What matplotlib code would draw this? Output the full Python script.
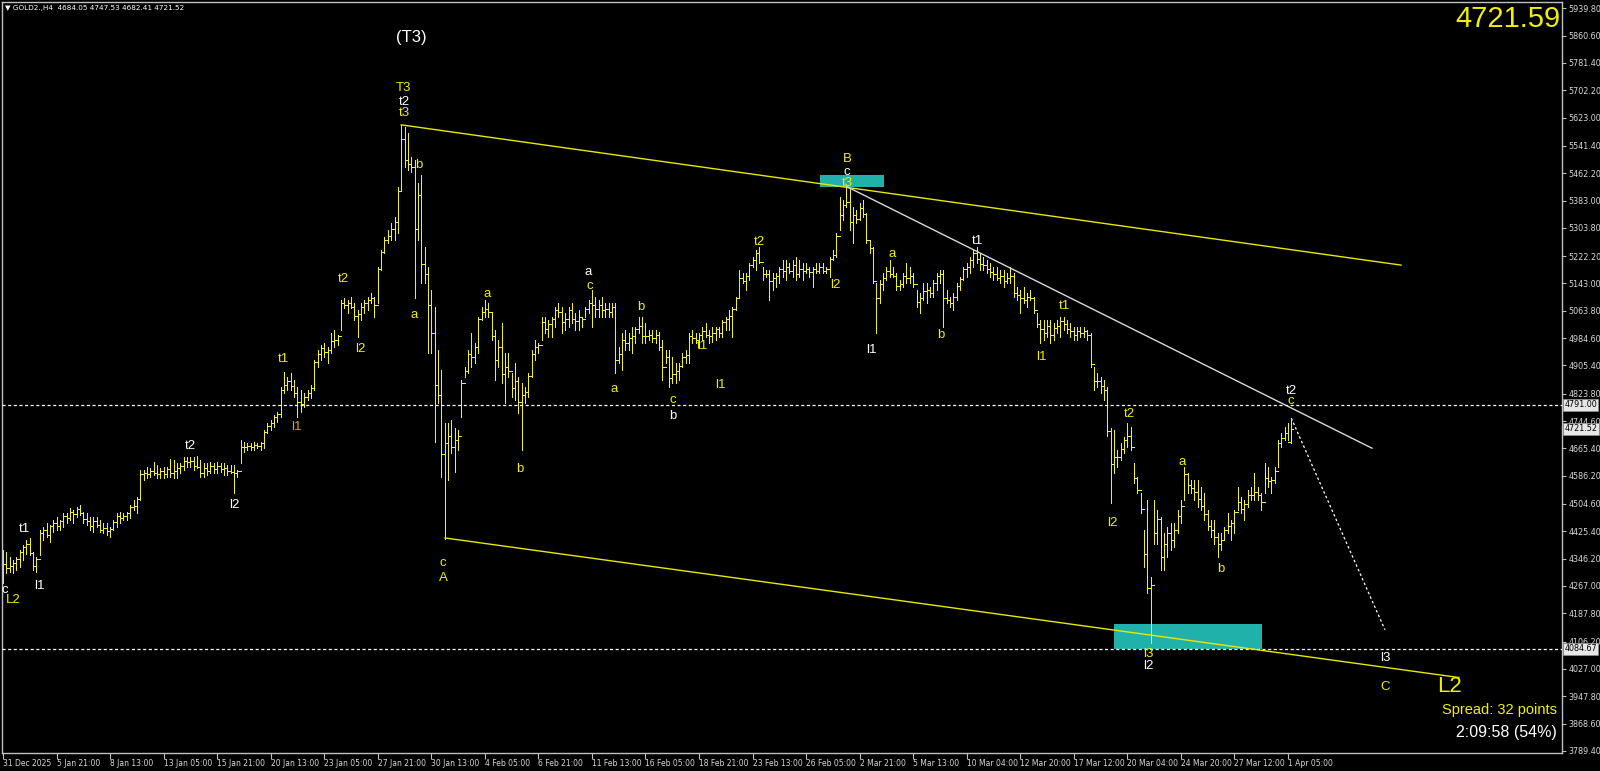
import matplotlib
matplotlib.use("Agg")
from matplotlib import pyplot as plt
from matplotlib.patches import Rectangle
import numpy as np

# GOLD2 H4 bars (bar index 0 = 31 Dec 2025)
highs = [
    4371, 4366, 4352, 4342, 4352, 4371, 4386, 4400, 4405, 4366,
    4352, 4429, 4439, 4448, 4444, 4458, 4468, 4458, 4477, 4477,
    4492, 4487, 4497, 4501, 4482, 4477, 4468, 4468, 4468, 4458,
    4448, 4448, 4439, 4458, 4477, 4482, 4477, 4482, 4501, 4516,
    4526, 4603, 4603, 4612, 4608, 4627, 4617, 4608, 4612, 4612,
    4636, 4632, 4622, 4622, 4641, 4641, 4641, 4641, 4643, 4632,
    4622, 4622, 4627, 4622, 4627, 4622, 4622, 4617, 4617, 4617,
    4603, 4690, 4685, 4680, 4680, 4685, 4680, 4685, 4719, 4738,
    4748, 4762, 4772, 4844, 4887, 4873, 4883, 4863, 4844, 4834,
    4825, 4834, 4849, 4921, 4950, 4965, 4970, 4960, 4999, 5008,
    4994, 5095, 5100, 5095, 5104, 5085, 5066, 5085, 5095, 5105,
    5114, 5105, 5191, 5240, 5278, 5298, 5317, 5336, 5423, 5602,
    5597, 5578, 5510, 5500, 5433, 5457, 5249, 5191, 5124, 5075,
    4950, 4892, 4738, 4738, 4748, 4724, 4719, 4863, 4902, 4950,
    4999, 4970, 5047, 5076, 5095, 5085, 5056, 5008, 4979, 5027,
    4941, 4941, 4883, 4912, 4873, 4854, 4844, 4883, 4950, 4979,
    4970, 5047, 5047, 5037, 5047, 5076, 5085, 5076, 5056, 5076,
    5085, 5056, 5066, 5047, 5076, 5095, 5124, 5105, 5095, 5105,
    5085, 5085, 5085, 5085, 4960, 4999, 5008, 4999, 5018, 5018,
    5047, 5047, 5027, 5008, 5008, 5008, 5003, 4979, 4950, 4950,
    4931, 4912, 4912, 4941, 4950, 4999, 5008, 4999, 4999, 5018,
    5027, 5008, 5018, 5018, 5018, 5037, 5047, 5066, 5076, 5105,
    5182, 5172, 5172, 5201, 5220, 5240, 5249, 5191, 5182, 5182,
    5172, 5172, 5191, 5211, 5211, 5201, 5211, 5220, 5211, 5201,
    5201, 5191, 5191, 5201, 5201, 5201, 5191, 5220, 5240, 5288,
    5394, 5384, 5423, 5418, 5365, 5355, 5375, 5384, 5346, 5269,
    5249, 5143, 5153, 5172, 5191, 5211, 5191, 5172, 5153, 5172,
    5201, 5191, 5172, 5124, 5114, 5143, 5143, 5134, 5153, 5172,
    5182, 5182, 5124, 5105, 5114, 5143, 5162, 5191, 5201, 5220,
    5240, 5249, 5230, 5220, 5211, 5201, 5191, 5191, 5182, 5182,
    5172, 5191, 5172, 5134, 5124, 5134, 5114, 5124, 5105, 5056,
    5037, 5037, 5037, 5037, 5027, 5037, 5047, 5047, 5037, 5027,
    5018, 5018, 5018, 5018, 5008, 4999, 4902, 4883, 4873, 4863,
    4844, 4724, 4718, 4661, 4680, 4699, 4738, 4728, 4622, 4583,
    4535, 4429, 4516, 4294, 4516, 4487, 4468, 4419, 4439, 4448,
    4448, 4487, 4516, 4612, 4593, 4574, 4574, 4574, 4555, 4535,
    4487, 4458, 4458, 4419, 4419, 4439, 4477, 4458, 4487, 4555,
    4526, 4516, 4545, 4555, 4593, 4555, 4535, 4622, 4612, 4583,
    4612, 4690, 4709, 4728, 4738, 4747.53,
]
lows = [
    4275, 4304, 4308, 4304, 4313, 4323, 4342, 4361, 4357, 4313,
    4308, 4357, 4400, 4410, 4395, 4424, 4429, 4429, 4439, 4448,
    4458, 4448, 4468, 4472, 4448, 4444, 4429, 4424, 4439, 4424,
    4419, 4415, 4410, 4429, 4439, 4448, 4458, 4458, 4463, 4487,
    4477, 4516, 4574, 4579, 4583, 4588, 4579, 4579, 4579, 4583,
    4583, 4579, 4579, 4593, 4603, 4612, 4612, 4603, 4608, 4583,
    4583, 4588, 4593, 4593, 4593, 4598, 4588, 4588, 4593, 4535,
    4583, 4622, 4656, 4661, 4661, 4661, 4666, 4661, 4666, 4709,
    4719, 4728, 4743, 4757, 4825, 4834, 4834, 4815, 4757, 4772,
    4786, 4805, 4810, 4834, 4902, 4921, 4931, 4912, 4941, 4960,
    4965, 5008, 5071, 5056, 5071, 5037, 4989, 5037, 5056, 5066,
    5085, 5047, 5085, 5182, 5230, 5259, 5269, 5269, 5288, 5413,
    5481, 5471, 5466, 5100, 5269, 5143, 5143, 4941, 4941, 4685,
    4796, 4583, 4403, 4574, 4651, 4598, 4661, 4757, 4873, 4883,
    4902, 4912, 4941, 5037, 5047, 5047, 4979, 4863, 4902, 4854,
    4796, 4873, 4815, 4805, 4767, 4661, 4796, 4815, 4873, 4921,
    4941, 4979, 4999, 4989, 4989, 5018, 5047, 4999, 5008, 5018,
    5027, 5008, 5008, 5018, 5047, 5056, 5018, 5047, 5047, 5047,
    5047, 5047, 5047, 4883, 4912, 4892, 4950, 4950, 4941, 4970,
    4999, 4970, 4970, 4979, 4974, 4970, 4950, 4863, 4912, 4844,
    4854, 4854, 4863, 4902, 4912, 4912, 4970, 4970, 4960, 4979,
    4989, 4970, 4974, 4979, 4989, 4989, 5008, 5008, 4989, 5066,
    5105, 5143, 5124, 5153, 5191, 5182, 5201, 5153, 5162, 5095,
    5124, 5134, 5143, 5162, 5153, 5172, 5162, 5153, 5162, 5153,
    5172, 5162, 5134, 5172, 5172, 5172, 5172, 5162, 5211, 5220,
    5298, 5326, 5365, 5298, 5259, 5317, 5326, 5336, 5259, 5230,
    5143, 4999, 5085, 5124, 5153, 5162, 5162, 5124, 5124, 5134,
    5143, 5143, 5134, 5076, 5056, 5095, 5085, 5105, 5105, 5124,
    5143, 5018, 5085, 5076, 5066, 5095, 5124, 5153, 5162, 5172,
    5191, 5201, 5182, 5182, 5172, 5162, 5153, 5153, 5143, 5134,
    5143, 5143, 5105, 5095, 5056, 5085, 5076, 5095, 5056, 5018,
    4970, 4979, 4989, 4970, 4979, 4999, 4989, 5008, 4999, 4989,
    4979, 4979, 4989, 4989, 4979, 4902, 4834, 4844, 4825, 4805,
    4700, 4506, 4593, 4612, 4632, 4651, 4670, 4661, 4564, 4535,
    4477, 4323, 4246, 4101, 4390, 4390, 4313, 4313, 4352, 4371,
    4381, 4419, 4448, 4516, 4535, 4535, 4516, 4497, 4487, 4458,
    4429, 4410, 4390, 4352, 4371, 4400, 4419, 4400, 4419, 4487,
    4477, 4458, 4497, 4516, 4516, 4516, 4487, 4535, 4555, 4535,
    4564, 4612, 4670, 4690, 4690, 4682.41,
]
closes = [
    4330, 4320, 4325, 4335, 4345, 4365, 4380, 4390, 4362, 4325,
    4345, 4420, 4430, 4415, 4440, 4450, 4440, 4455, 4470, 4465,
    4480, 4475, 4490, 4478, 4460, 4455, 4440, 4455, 4445, 4430,
    4435, 4425, 4432, 4452, 4470, 4465, 4470, 4478, 4495, 4500,
    4520, 4590, 4595, 4590, 4600, 4595, 4590, 4600, 4590, 4605,
    4595, 4600, 4610, 4615, 4630, 4625, 4630, 4615, 4612, 4595,
    4610, 4600, 4615, 4605, 4615, 4605, 4610, 4600, 4598, 4595,
    4600, 4670, 4668, 4672, 4670, 4675, 4672, 4680, 4712, 4730,
    4740, 4755, 4765, 4835, 4850, 4860, 4845, 4825, 4800, 4795,
    4815, 4825, 4840, 4915, 4940, 4955, 4945, 4950, 4975, 4980,
    4990, 5085, 5080, 5085, 5075, 5050, 5055, 5075, 5085, 5095,
    5100, 5080, 5185, 5235, 5270, 5280, 5300, 5320, 5410, 5560,
    5500, 5490, 5480, 5300, 5400, 5200, 5170, 5080, 5000, 4850,
    4820, 4650, 4680, 4700, 4670, 4690, 4700, 4855, 4890, 4940,
    4930, 4960, 5040, 5060, 5070, 5060, 4990, 4920, 4960, 4880,
    4900, 4890, 4840, 4860, 4800, 4820, 4830, 4875, 4940, 4960,
    4965, 5030, 5010, 5025, 5040, 5065, 5060, 5030, 5040, 5065,
    5040, 5035, 5045, 5040, 5070, 5085, 5080, 5070, 5080, 5065,
    5070, 5060, 5075, 4920, 4940, 4980, 4970, 4985, 4990, 5010,
    5020, 4990, 4990, 4995, 4985, 4995, 4960, 4900, 4930, 4870,
    4880, 4890, 4905, 4930, 4935, 4990, 4985, 4980, 4995, 5005,
    4995, 4990, 5000, 5010, 5000, 5030, 5040, 5050, 5070, 5100,
    5160, 5150, 5165, 5195, 5210, 5230, 5205, 5170, 5170, 5150,
    5160, 5165, 5185, 5180, 5190, 5180, 5195, 5170, 5185, 5180,
    5185, 5175, 5185, 5180, 5190, 5180, 5185, 5215, 5225, 5280,
    5340, 5370, 5380, 5320, 5340, 5330, 5360, 5345, 5270, 5245,
    5150, 5100, 5140, 5160, 5180, 5170, 5165, 5135, 5140, 5165,
    5160, 5165, 5140, 5090, 5100, 5120, 5125, 5115, 5145, 5165,
    5170, 5100, 5095, 5085, 5105, 5135, 5155, 5185, 5190, 5210,
    5230, 5215, 5200, 5195, 5185, 5175, 5170, 5160, 5165, 5150,
    5160, 5165, 5115, 5110, 5100, 5095, 5105, 5100, 5065, 5025,
    5010, 5000, 5020, 4995, 5015, 5020, 5035, 5025, 5010, 5005,
    4995, 5005, 5000, 5005, 4995, 4910, 4860, 4860, 4845, 4835,
    4715, 4620, 4640, 4640, 4665, 4690, 4700, 4670, 4580, 4545,
    4490, 4360, 4260, 4270, 4420, 4460, 4350, 4390, 4420, 4400,
    4430, 4470, 4500, 4590, 4560, 4550, 4540, 4520, 4500, 4475,
    4440, 4430, 4410, 4390, 4400, 4430, 4440, 4450, 4480, 4510,
    4490, 4505, 4530, 4530, 4540, 4530, 4510, 4580, 4570, 4575,
    4600, 4680, 4695, 4710, 4684.05, 4721.52,
]
first_open = 4345
opens = [first_open] + closes[:-1]

date_labels = ["31 Dec 2025", "5 Jan 21:00", "8 Jan 13:00", "13 Jan 05:00", "15 Jan 21:00",
               "20 Jan 13:00", "23 Jan 05:00", "27 Jan 21:00", "30 Jan 13:00", "4 Feb 05:00",
               "6 Feb 21:00", "11 Feb 13:00", "16 Feb 05:00", "18 Feb 21:00", "23 Feb 13:00",
               "26 Feb 05:00", "2 Mar 21:00", "5 Mar 13:00", "10 Mar 04:00", "12 Mar 20:00",
               "17 Mar 12:00", "20 Mar 04:00", "24 Mar 20:00", "27 Mar 12:00", "1 Apr 05:00"]
bars_per_label = 16

price_ticks = [5939.80, 5860.60, 5781.40, 5702.20, 5623.00, 5541.40, 5462.20, 5383.00,
               5303.80, 5222.20, 5143.00, 5063.80, 4984.60, 4905.40, 4823.80, 4744.60,
               4665.40, 4586.20, 4504.60, 4425.40, 4346.20, 4267.00, 4187.80, 4106.20,
               4027.00, 3947.80, 3868.60, 3789.40]

# price levels (horizontal dotted lines with price boxes)
level_hi = 4791.00
level_lo = 4084.67
last_price = 4721.52
bid_big = "4721.59"

# trend lines: (bar index, price) end points
upper_channel = ([119, 417.8], [5602, 5196])
lower_channel = ([132.1, 435.1], [4406, 4002])
white_line = ([252.2, 409.1], [5423, 4666])
dotted_path = ([385, 413], [4753, 4140])

# supply/demand zones: (x0, x1, p0, p1)
zone_top = (244.2, 263.3, 5422, 5457)
zone_bottom = (332.1, 376.2, 4085, 4157)

# wave labels: (bar index, price, text, colour)
Y = "#f0f000"
W = "#ffffff"
O = "#d9a21a"
wave_labels = [
    (119.8, 5709, "T3", Y), (119.8, 5668, "t2", W), (119.8, 5636, "t3", Y),
    (124.3, 5486, "b", Y), (122.8, 5052, "a", Y),
    (101.6, 5156, "t2", Y), (106.7, 4953, "l2", Y),
    (83.7, 4924, "t1", Y), (87.6, 4727, "l1", O),
    (55.9, 4672, "t2", W), (69.0, 4501, "l2", W),
    (6.3, 4432, "t1", W), (10.8, 4267, "l1", W),
    (0.4, 4255, "c", W), (3.0, 4226, "L2", Y),
    (131.5, 4334, "c", Y), (131.5, 4290, "A", Y),
    (144.6, 5112, "a", Y), (154.5, 4606, "b", Y),
    (174.8, 5176, "a", W), (175.4, 5136, "c", Y),
    (182.6, 4837, "a", Y), (190.7, 5075, "b", Y),
    (200.2, 4805, "c", Y), (200.2, 4759, "b", W),
    (208.9, 4962, "t1", Y), (214.3, 4849, "l1", Y),
    (225.9, 5263, "t2", Y), (248.7, 5138, "l2", Y),
    (252.2, 5503, "B", Y), (252.2, 5466, "c", W), (252.2, 5434, "t3", Y),
    (259.4, 4950, "l1", W), (265.7, 5228, "a", Y), (280.3, 4994, "b", Y),
    (291.1, 5266, "t1", W), (310.2, 4930, "l1", Y), (317.1, 5078, "t1", Y),
    (336.5, 4765, "t2", Y), (331.4, 4449, "l2", Y),
    (352.4, 4626, "a", Y), (364.0, 4316, "b", Y),
    (342.2, 4070, "l3", Y), (342.2, 4035, "l2", W),
    (384.9, 4832, "t2", W), (384.9, 4803, "c", Y),
    (413.0, 4059, "l3", W), (413.0, 3975, "C", Y),
]

W_PX, H_PX = 1600, 771
fig = plt.figure(figsize=(W_PX / 100, H_PX / 100), dpi=100, facecolor="black")
ax_left, ax_right, ax_top, ax_bottom = 2, 1562, 2, 753
ax = fig.add_axes([ax_left / W_PX, 1 - ax_bottom / H_PX,
                   (ax_right - ax_left) / W_PX, (ax_bottom - ax_top) / H_PX])
ax.set_facecolor("black")

x = np.arange(len(highs))
bar_col = "#f0f030"
lw = 0.72
ax.vlines(x, lows, highs, color=bar_col, lw=lw, antialiased=False)
ax.hlines(opens, x - 0.4, x, color=bar_col, lw=lw, antialiased=False)
ax.hlines(closes, x, x + 0.4, color=bar_col, lw=lw, antialiased=False)

ax.set_xlim(-0.3, 465.9)
ax.set_ylim(3783.5, 5957.7)

# zones
for x0, x1, p0, p1 in (zone_top, zone_bottom):
    ax.add_patch(Rectangle((x0, p0), x1 - x0, p1 - p0, facecolor="#20b2aa",
                           edgecolor="none", zorder=1))

# levels
for lv in (level_hi, level_lo):
    ax.axhline(lv, color="white", lw=0.9, ls=(0, (2.5, 2)), zorder=3)

ax.plot(*upper_channel, color="#e8e800", lw=1.0, zorder=4)
ax.plot(*lower_channel, color="#e8e800", lw=1.0, zorder=4)
ax.plot(*white_line, color="#d8d8d8", lw=1.0, zorder=4)
ax.plot(*dotted_path, color="white", lw=0.9, ls=(0, (2, 2)), zorder=4)

for xi, pi, txt, col in wave_labels:
    ax.text(xi, pi, txt, color=col, fontsize=9.5, ha="center", va="center",
            family="Liberation Sans", zorder=6)
ax.text(121.9, 5856, "(T3)", color="white", fontsize=12, ha="center", va="center",
        family="Liberation Sans")
ax.text(432.2, 3975, "L2", color=Y, fontsize=16, ha="center", va="center",
        family="Liberation Sans")

# axes frame and ticks
for side in ("left", "top", "right", "bottom"):
    ax.spines[side].set_color("#c0c0c0")
    ax.spines[side].set_linewidth(1.0)

ax.yaxis.tick_right()
ax.set_yticks(price_ticks)
ax.set_yticklabels(["%.2f" % p for p in price_ticks])
ax.tick_params(axis="y", colors="#c0c0c0", labelcolor="#d8d8d8", labelsize=5.8,
               length=3, width=0.8, pad=1.5)

xt = [i * bars_per_label for i in range(len(date_labels))]
ax.set_xticks(xt)
ax.set_xticklabels(date_labels, ha="left")
ax.tick_params(axis="x", colors="#c0c0c0", labelcolor="#d8d8d8", labelsize=5.5,
               length=4, width=0.8, pad=0.5)

ytr = ax.get_yaxis_transform()
for lv, txt in ((level_hi, "%.2f" % level_hi), (last_price, "%.2f" % last_price),
                (level_lo, "%.2f" % level_lo)):
    ax.text(1.0015, lv, txt, transform=ytr, fontsize=5.8, color="black", ha="left",
            va="center", clip_on=False, zorder=10,
            bbox=dict(boxstyle="square,pad=0.15", facecolor="#e6e6e6", edgecolor="#909090", lw=0.5))

# header and info texts
fig.text(5 / W_PX, 1 - 8 / H_PX, "\u25bc GOLD2.,H4  4684.05 4747.53 4682.41 4721.52",
         color="white", fontsize=5.2, va="center", ha="left")
fig.text(1560 / W_PX, 1 - 19 / H_PX, bid_big, color=Y, fontsize=21, va="center",
         ha="right", family="Liberation Sans")
fig.text(1557 / W_PX, 1 - 710 / H_PX, "Spread: 32 points", color=Y, fontsize=10.5,
         va="center", ha="right", family="Liberation Sans")
fig.text(1557 / W_PX, 1 - 732 / H_PX, "2:09:58 (54%)", color="white", fontsize=11.5,
         va="center", ha="right", family="Liberation Sans")

fig.savefig("out.png", dpi=100, facecolor="black")
